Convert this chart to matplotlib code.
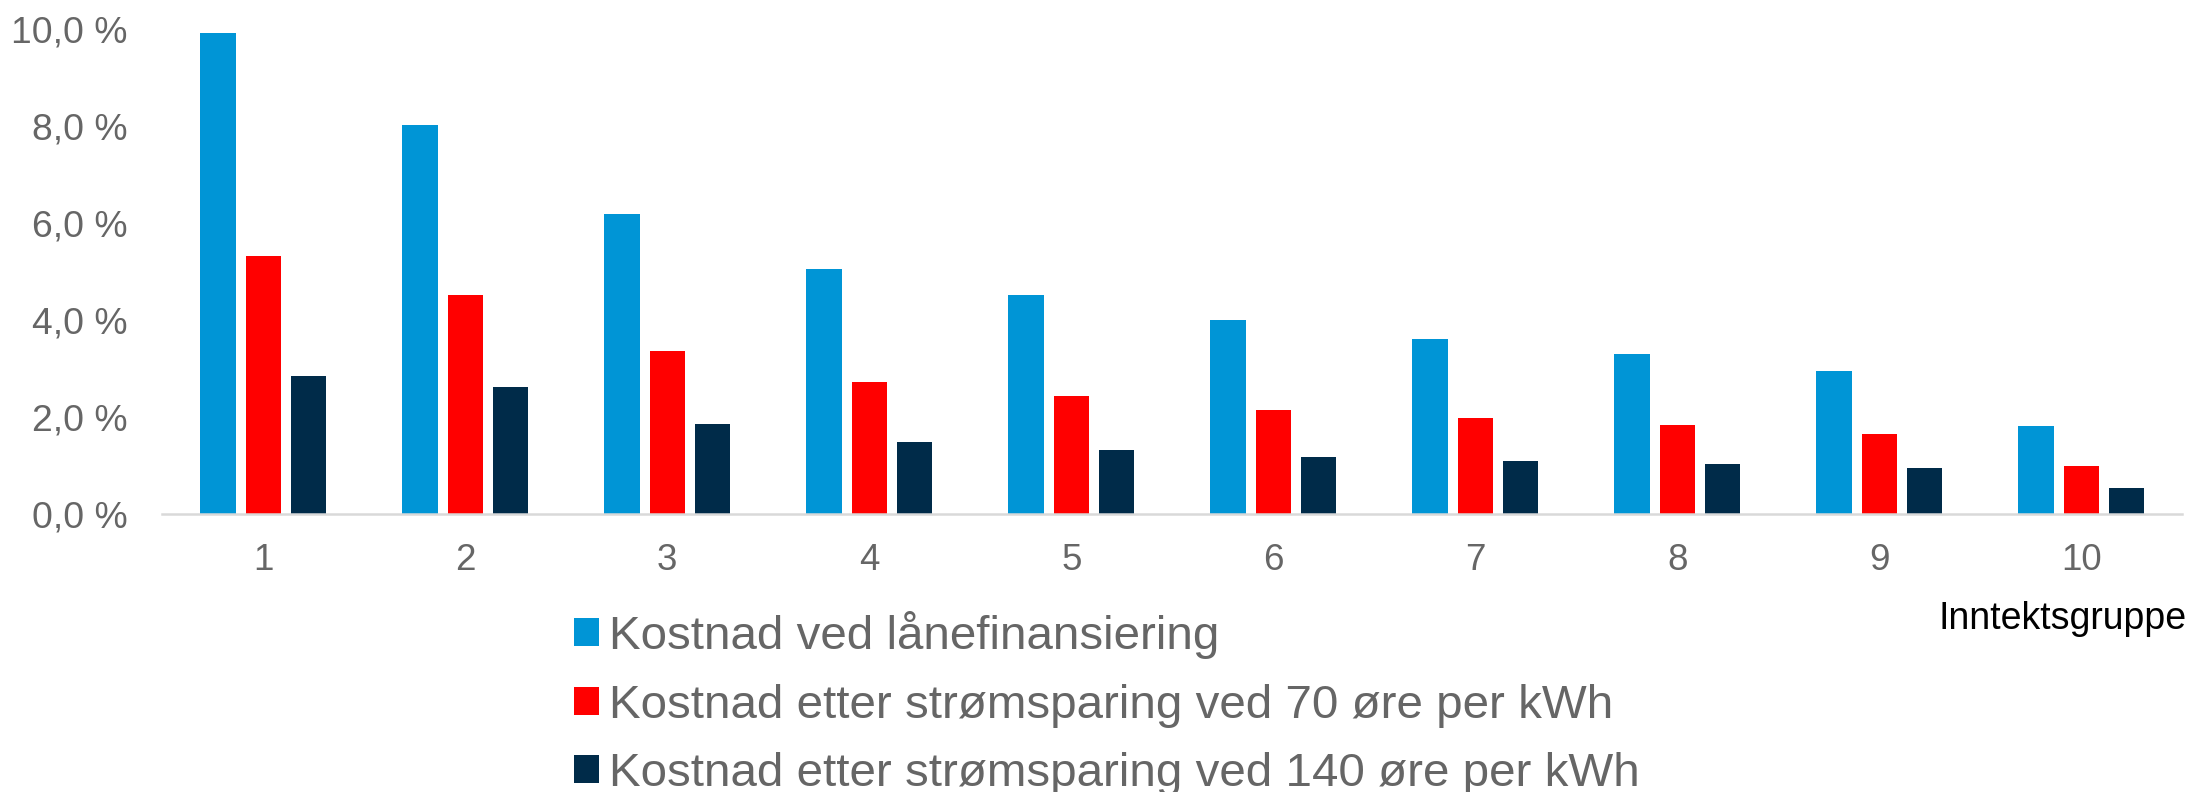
import matplotlib
matplotlib.use("Agg")
import matplotlib.pyplot as plt
import numpy as np

# Data
groups = ["1", "2", "3", "4", "5", "6", "7", "8", "9", "10"]
laan = [9.91, 8.02, 6.19, 5.06, 4.51, 4.01, 3.62, 3.30, 2.95, 1.82]
spar_70 = [5.32, 4.51, 3.37, 2.73, 2.44, 2.16, 1.98, 1.84, 1.66, 1.00]
spar_140 = [2.85, 2.62, 1.87, 1.49, 1.33, 1.18, 1.10, 1.04, 0.96, 0.54]
labels = ["Kostnad ved lånefinansiering",
          "Kostnad etter strømsparing ved 70 øre per kWh",
          "Kostnad etter strømsparing ved 140 øre per kWh"]
colors = ["#0095D6", "#FF0000", "#002B49"]
yticks = [0, 2, 4, 6, 8, 10]

plt.rcParams['font.family'] = ['Liberation Sans', 'DejaVu Sans']

fig = plt.figure(figsize=(21.95, 7.92), dpi=100)
ax = fig.add_axes([0.0739, 0.3504, 0.9203, 0.6136])

x = np.arange(len(groups))
w = 0.175
step = 0.224
for i, (vals, lab, col) in enumerate(zip([laan, spar_70, spar_140], labels, colors)):
    ax.bar(x + (i - 1) * step, vals, width=w, color=col, label=lab)

ax.set_xlim(-0.5, len(groups) - 0.5)
ax.set_ylim(0, 10)
ax.set_yticks(yticks)
ax.set_yticklabels([f"{v:.1f} %".replace(".", ",") for v in yticks])
ax.set_xticks(x)
ax.set_xticklabels(groups)

gray = "#666666"
ax.tick_params(axis="y", length=0, pad=25, labelsize=26.8, labelcolor=gray)
ax.tick_params(axis="x", length=0, pad=20.5, labelsize=26.5, labelcolor=gray)
for s in ["left", "right", "top"]:
    ax.spines[s].set_visible(False)
ax.spines["bottom"].set_color("#D9D9D9")
ax.spines["bottom"].set_linewidth(1.8)

fig.text(0.9964, 0.2058, "Inntektsgruppe", ha="right", va="baseline",
         fontsize=27, color="black")

leg = fig.legend(loc="upper left", bbox_to_anchor=(0.2615, 0.2285), frameon=False,
                 fontsize=34.2, handlelength=0.526, handleheight=0.526,
                 handletextpad=0.21, labelspacing=0.516, borderpad=0,
                 borderaxespad=0)
for t in leg.get_texts():
    t.set_color(gray)

fig.savefig("out.png", dpi=100)
